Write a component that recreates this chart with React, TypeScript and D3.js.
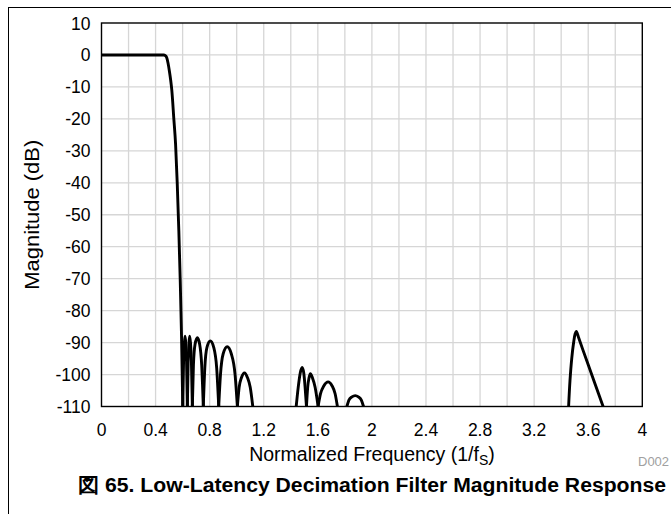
import React from "react";
import * as d3 from "d3";

const xTicks = [0, 0.4, 0.8, 1.2, 1.6, 2, 2.4, 2.8, 3.2, 3.6, 4];
const xGrid = [0.2, 0.4, 0.6, 0.8, 1.0, 1.2, 1.4, 1.6, 1.8, 2.0, 2.2, 2.4, 2.6, 2.8, 3.0, 3.2, 3.4, 3.6, 3.8];
const yTicks = [10, 0, -10, -20, -30, -40, -50, -60, -70, -80, -90, -100, -110];

// frequency (1/fS), magnitude (dB)
const passband: [number, number][] = [
  [0, 0], [0.1, 0], [0.2, 0], [0.3, 0], [0.4, 0], [0.46, 0], [0.472, -0.2], [0.482, -0.8],
  [0.492, -2.5], [0.502, -5], [0.512, -8], [0.52, -11], [0.535, -20], [0.548, -28],
  [0.56, -40], [0.572, -55], [0.582, -70], [0.592, -88], [0.601, -110],
];
const lobe1: [number, number][] = [[0.601, -110], [0.607, -96], [0.613, -90], [0.618, -88], [0.623, -90], [0.629, -96], [0.635, -110]];
const lobe2: [number, number][] = [[0.635, -110], [0.641, -96], [0.647, -90], [0.652, -88], [0.658, -90], [0.665, -96], [0.672, -110]];
const lobe3: [number, number][] = [[0.672, -110], [0.68, -97], [0.692, -90.5], [0.709, -88.5], [0.726, -90.5], [0.741, -97], [0.753, -110]];
const lobe4: [number, number][] = [[0.753, -110], [0.764, -98], [0.78, -91.5], [0.805, -89.5], [0.83, -91.5], [0.852, -98], [0.867, -110]];
const lobe5: [number, number][] = [[0.867, -110], [0.88, -100], [0.9, -93.5], [0.93, -91.3], [0.96, -93.5], [0.988, -100], [1.005, -110]];
const lobe6: [number, number][] = [[1.005, -110], [1.018, -104], [1.035, -101], [1.058, -99.5], [1.08, -101], [1.1, -104], [1.119, -110]];
const lobe7: [number, number][] = [[1.44, -110], [1.455, -104], [1.47, -99.5], [1.484, -97.8], [1.496, -99.5], [1.506, -104], [1.516, -110]];
const lobe8: [number, number][] = [[1.516, -110], [1.525, -104], [1.535, -101], [1.545, -99.7], [1.56, -101], [1.58, -104], [1.602, -110]];
const lobe9: [number, number][] = [[1.602, -110], [1.62, -106], [1.645, -103.5], [1.676, -102.3], [1.705, -103.5], [1.728, -106], [1.745, -110]];
const lobe10: [number, number][] = [[1.815, -110], [1.83, -108], [1.852, -107], [1.877, -106.6], [1.9, -107], [1.922, -108], [1.938, -110]];
const lobe11: [number, number][] = [
  [3.455, -110], [3.465, -102], [3.478, -95], [3.492, -90], [3.503, -87.3], [3.512, -86.5],
  [3.53, -88.6], [3.56, -92.2], [3.6, -96.9], [3.65, -102.9], [3.71, -110],
];

const segments = [passband, lobe1, lobe2, lobe3, lobe4, lobe5, lobe6, lobe7, lobe8, lobe9, lobe10];
const linearSegments = [lobe11];

const W = 671, H = 514;
const left = 101.5, right = 642.3, top = 23, bottom = 406.5;
const FONT = "'Liberation Sans', Arial, Helvetica, sans-serif";

export default function App() {
  const x = d3.scaleLinear().domain([0, 4]).range([left, right]);
  const y = d3.scaleLinear().domain([-110, 10]).range([bottom, top]);
  const line = d3.line<[number, number]>().x(d => x(d[0])).y(d => y(d[1])).curve(d3.curveMonotoneX);
  const lineLin = d3.line<[number, number]>().x(d => x(d[0])).y(d => y(d[1])).curve(d3.curveCatmullRom.alpha(0.5));
  return (
    <svg width={W} height={H} style={{ position: "absolute", left: 0, top: 0, background: "#fff" }}>
      <rect x={0} y={0} width={W} height={H} fill="#fff" />
      <rect x={8.5} y={7.5} width={W + 10} height={H + 10} fill="none" stroke="#000" strokeWidth={1} />
      <defs>
        <clipPath id="plot">
          <rect x={left} y={top} width={right - left} height={bottom - top} />
        </clipPath>
      </defs>
      {xGrid.map(v => (
        <line key={"gx" + v} x1={x(v)} x2={x(v)} y1={top} y2={bottom} stroke="#d6d6d6" strokeWidth={1.3} />
      ))}
      {yTicks.filter(v => v !== 10 && v !== -110).map(v => (
        <line key={"gy" + v} x1={left} x2={right} y1={y(v)} y2={y(v)} stroke="#d6d6d6" strokeWidth={1.3} />
      ))}
      <g clipPath="url(#plot)">
        {segments.map((s, i) => (
          <path key={i} d={line(s) || ""} fill="none" stroke="#000" strokeWidth={2.9} strokeLinejoin="round" />
        ))}
        {linearSegments.map((s, i) => (
          <path key={"l" + i} d={lineLin(s) || ""} fill="none" stroke="#000" strokeWidth={2.9} strokeLinejoin="round" />
        ))}
      </g>
      <rect x={left} y={top} width={right - left} height={bottom - top} fill="none" stroke="#000" strokeWidth={1.4} />
      {yTicks.map(v => (
        <text key={"ty" + v} x={90.5} y={y(v) + 6.5} textAnchor="end" fontFamily={FONT} fontSize={17.5} fill="#000">{v}</text>
      ))}
      {xTicks.map(v => (
        <text key={"tx" + v} x={x(v)} y={436} textAnchor="middle" fontFamily={FONT} fontSize={17.5} fill="#000">{v}</text>
      ))}
      <text x={372} y={461} textAnchor="middle" fontFamily={FONT} fontSize={19.5} fill="#000">
        Normalized Frequency (1/f<tspan fontSize={14} dy={4}>S</tspan><tspan dy={-4}>)</tspan>
      </text>
      <text transform={`translate(38.5,${(top + bottom) / 2}) rotate(-90)`} textAnchor="middle" fontFamily={FONT} fontSize={20} fill="#000" textLength={150} lengthAdjust="spacingAndGlyphs">
        Magnitude (dB)
      </text>
      <text x={638} y={466} fontFamily={FONT} fontSize={13} fill="#a0a0a0">D002</text>
      <text x={78} y={492} fontFamily={FONT} fontSize={20} fontWeight="bold" fill="#000" textLength={588} lengthAdjust="spacingAndGlyphs">
        図 65. Low-Latency Decimation Filter Magnitude Response
      </text>
    </svg>
  );
}
